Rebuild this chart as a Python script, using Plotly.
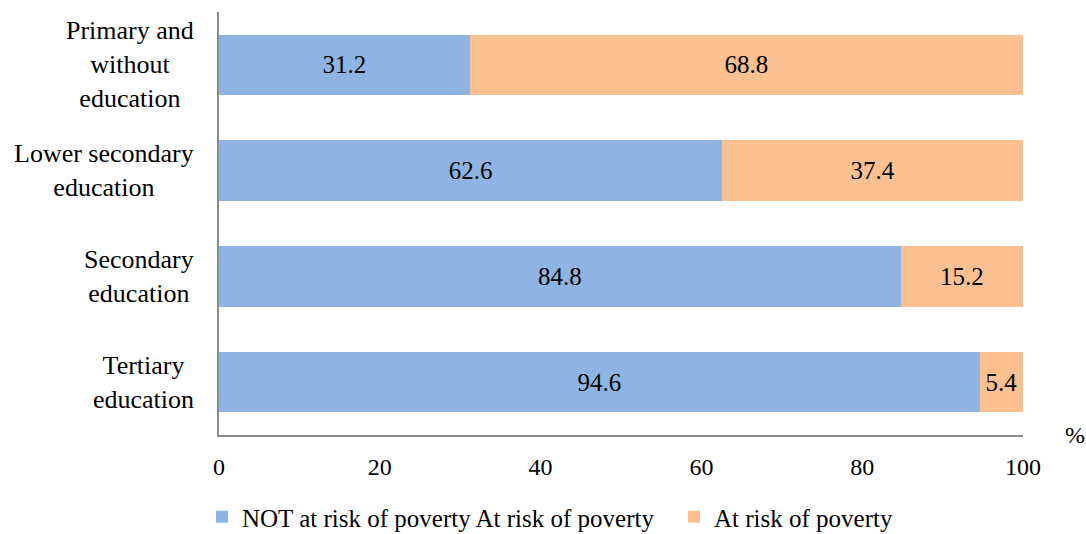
import plotly.graph_objects as go

categories = ["Primary and without education", "Lower secondary education",
              "Secondary education", "Tertiary education"]
category_labels = ["Primary and<br>without<br>education", "Lower secondary<br>education",
                   "Secondary<br>education", "Tertiary<br>education"]
not_at_risk = [31.2, 62.6, 84.8, 94.6]
at_risk = [68.8, 37.4, 15.2, 5.4]
tick_vals = [0, 20, 40, 60, 80, 100]

font = "Liberation Serif, Times New Roman, serif"

fig = go.Figure()
fig.add_trace(go.Bar(
    y=categories, x=not_at_risk, orientation="h",
    name="NOT at risk of poverty At risk of poverty",
    marker=dict(color="#8EB4E3", line=dict(width=0)),
    text=[f"{v:.1f}" for v in not_at_risk], textposition="inside",
    insidetextanchor="middle", textfont=dict(size=25, color="black", family=font),
    legend="legend", showlegend=True,
))
fig.add_trace(go.Bar(
    y=categories, x=at_risk, orientation="h",
    name="At risk of poverty",
    marker=dict(color="#FAC090", line=dict(width=0)),
    text=[f"{v:.1f}" for v in at_risk], textposition="inside",
    insidetextanchor="middle", textfont=dict(size=25, color="black", family=font),
    legend="legend2", showlegend=True,
))

annotations = [dict(text=lab, xref="paper", yref="y", x=0, y=cat, xshift=-23,
                    xanchor="right", yanchor="middle", align="center", showarrow=False,
                    font=dict(size=26, family=font, color="black"))
               for cat, lab in zip(categories, category_labels)]
annotations.append(dict(text="%", xref="paper", yref="paper", x=1.0, xshift=40, y=0,
                        xanchor="left", yanchor="middle", showarrow=False,
                        font=dict(size=24, family=font, color="black")))

W, H = 1086, 534
legend_common = dict(orientation="h", xanchor="left", xref="container", yref="container",
                     y=17 / H, yanchor="middle",
                     font=dict(size=25, family=font, color="black"),
                     itemwidth=30, bgcolor="rgba(0,0,0,0)", visible=True)

fig.update_layout(
    showlegend=True,
    barmode="stack", bargap=0.43,
    width=W, height=H,
    margin=dict(l=219, r=63, t=12, b=99),
    paper_bgcolor="white", plot_bgcolor="white",
    font=dict(family=font, size=24, color="black"),
    uniformtext=dict(mode=False),
    xaxis=dict(range=[0, 100], tickvals=tick_vals, showgrid=False, zeroline=False,
               showline=True, linecolor="#8C8C8C", linewidth=2, ticks="",
               tickfont=dict(size=24, family=font), ticklabelstandoff=9),
    yaxis=dict(categoryorder="array", categoryarray=categories[::-1],
               showgrid=False, zeroline=False, showline=True, linecolor="#8C8C8C",
               linewidth=2, ticks="", showticklabels=False),
    legend=dict(x=202 / W, **legend_common),
    legend2=dict(x=674 / W, **legend_common),
    annotations=annotations,
)

fig.write_html(
    "out.html",
    config={"displayModeBar": False},
    post_script="document.body.style.margin='0';document.body.style.overflow='hidden';",
)
